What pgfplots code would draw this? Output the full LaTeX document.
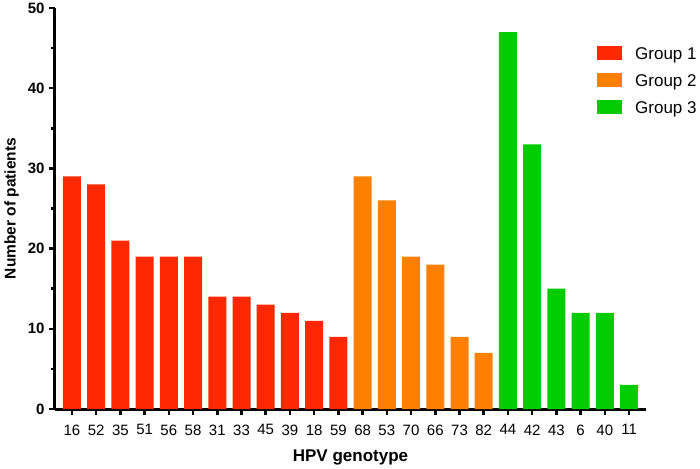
\documentclass[border=0pt]{standalone}
\usepackage{pgfplots}
\pgfplotsset{compat=1.18}
\usepackage{fontspec}
\setmainfont{Liberation Sans}
\definecolor{gA}{RGB}{255,40,0}
\definecolor{gB}{RGB}{255,128,0}
\definecolor{gC}{RGB}{0,204,0}
\begin{document}
\begin{tikzpicture}
\path[use as bounding box] (-55pt,-59pt) rectangle (645pt,409pt);
\begin{axis}[
  at={(0,0)}, anchor=south west,
  scale only axis, width=591pt, height=401pt,
  ymin=0, ymax=50, xmin=-0.7, xmax=23.7,
  axis x line*=bottom, axis y line*=left,
  axis line style={line width=3pt, -},
  every tick/.style={black, line width=2.5pt},
  tick align=outside,
  major tick length=6pt, minor tick length=4pt,
  ytick={0,10,20,30,40,50}, minor ytick={5,15,25,35,45},
  xtick={0,...,23},
  xticklabels={16,52,35,51,56,58,31,33,45,39,18,59,68,53,70,66,73,82,44,42,43,6,40,11},
  /pgf/number format/assume math mode=true,
  yticklabel style={font=\fontsize{15}{17}\selectfont\bfseries, xshift=-1pt},
  xticklabel style={font=\fontsize{15}{18}\selectfont, yshift=-6pt},
  xlabel={HPV genotype}, ylabel={Number of patients},
  xlabel style={font=\fontsize{17}{20}\selectfont\bfseries, yshift=-8pt},
  ylabel style={font=\fontsize{15.5}{18}\selectfont\bfseries, yshift=2pt},
  ybar, bar width=18pt, bar shift=0pt,
  legend style={draw=none, fill=none, at={(rel axis cs:0.917,0.905)}, anchor=north west,
    font=\fontsize{17}{20}\selectfont, row sep=13pt, inner sep=0pt,
    nodes={inner sep=0pt, text depth=0pt}},
  legend cell align=left,
  legend image code/.code={\fill[#1] (0pt,-7pt) rectangle (25pt,7pt); \path (38pt,0pt);},
  clip=false,
]
\addplot[fill=gA, draw=none] coordinates {(0,29)(1,28)(2,21)(3,19)(4,19)(5,19)(6,14)(7,14)(8,13)(9,12)(10,11)(11,9)};
\addplot[fill=gB, draw=none] coordinates {(12,29)(13,26)(14,19)(15,18)(16,9)(17,7)};
\addplot[fill=gC, draw=none] coordinates {(18,47)(19,33)(20,15)(21,12)(22,12)(23,3)};
\legend{Group 1, Group 2, Group 3}
\end{axis}
\end{tikzpicture}
\end{document}
